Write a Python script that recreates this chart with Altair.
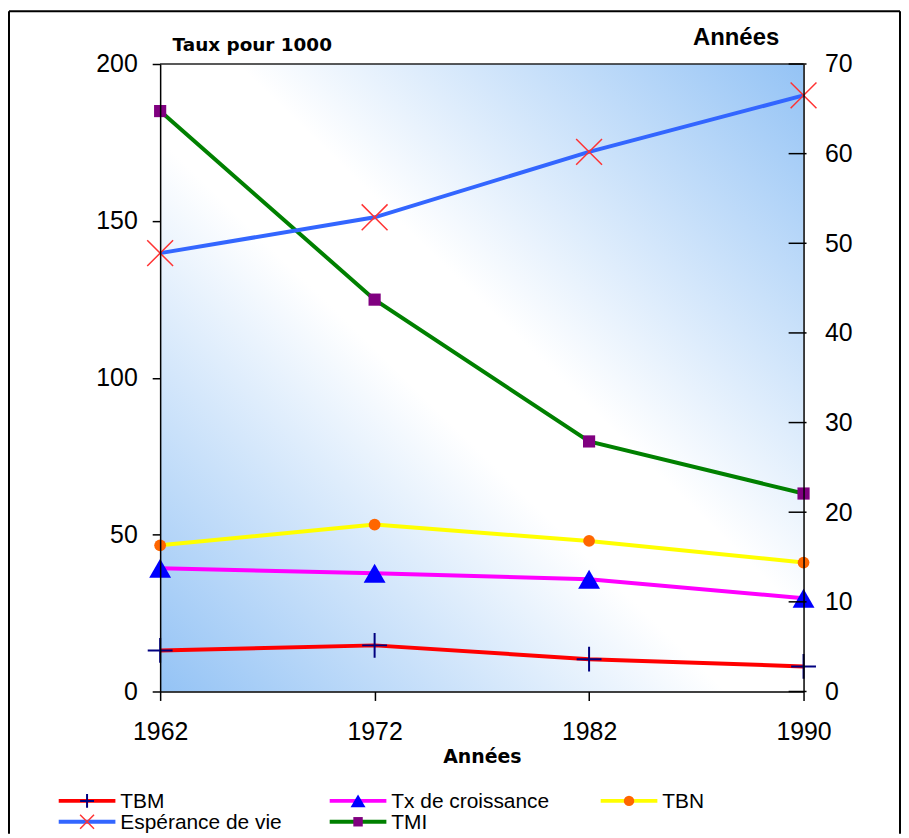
import altair as alt
import pandas as pd

# ---------------- data ----------------
years = ["1962", "1972", "1982", "1990"]
tbm = [13.1, 14.7, 10.3, 8.0]
tx_croissance = [39.3, 37.7, 35.8, 29.7]
tbn = [46.6, 53.2, 48.0, 41.1]
tmi = [185.0, 124.9, 79.7, 63.1]
esperance = [48.9, 52.9, 60.2, 66.5]

left_ticks = [0, 50, 100, 150, 200]
right_ticks = [0, 10, 20, 30, 40, 50, 60, 70]

series_names = ["TBM", "Tx de croissance", "TBN", "Espérance de vie", "TMI"]
line_colors = ["#ff0000", "#ff00ff", "#ffff00", "#3366ff", "#008000"]
legend_col = [0, 1, 2, 0, 1]
legend_row = [0, 0, 0, 1, 1]

# marker styles (plot, legend)
marker_styles = {
    "TBM": dict(shape="M-1,0L1,0M0,-1L0,1", filled=False, stroke="#000080", strokeWidth=2, opacity=1),
    "Tx de croissance": dict(shape="triangle-up", filled=True, fill="#0000ff", opacity=1, strokeWidth=0),
    "TBN": dict(shape="circle", filled=True, fill="#ff6600", opacity=1, strokeWidth=0),
    "Espérance de vie": dict(shape="M-1,-1L1,1M-1,1L1,-1", filled=False, stroke="#ff3333", strokeWidth=1.5, opacity=1),
    "TMI": dict(shape="square", filled=True, fill="#800080", opacity=1, strokeWidth=0),
}
plot_sizes = {"TBM": 625, "Tx de croissance": 484, "TBN": 140, "Espérance de vie": 676, "TMI": 150}
legend_sizes = {"TBM": 196, "Tx de croissance": 225, "TBN": 110, "Espérance de vie": 196, "TMI": 90}

W, H = 647, 631

left_series = {"TBM": tbm, "Tx de croissance": tx_croissance, "TBN": tbn, "TMI": tmi}
left_df = pd.DataFrame(
    [{"year": y, "series": s, "value": v} for s, vals in left_series.items() for y, v in zip(years, vals)]
)
esp_df = pd.DataFrame({"year": years, "value": esperance, "series": "Espérance de vie"})
rt_df = pd.DataFrame({"value": right_ticks})
leg_df = pd.DataFrame({"series": series_names, "col": legend_col, "row": legend_row})
one = pd.DataFrame({"a": [0]})

color_scale = alt.Scale(domain=series_names, range=line_colors)
color_enc = alt.Color("series:N", scale=color_scale, legend=None)

x_axis = alt.Axis(
    title="Années", labelAngle=0, labelFont="Liberation Sans", labelFontSize=25,
    labelColor="black", labelPadding=19, tickSize=9, tickColor="black", tickWidth=1.5,
    domainColor="black", domainWidth=1.5, grid=False, zindex=1,
    titleFont="DejaVu Sans", titleFontSize=19, titleFontWeight="bold", titleColor="black",
    titlePadding=3,
)
x_scale = alt.Scale(type="point", padding=0, domain=years)
x_main = alt.X("year:O", scale=x_scale, axis=x_axis)
x_noaxis = alt.X("year:O", scale=x_scale, axis=None)

left_axis = alt.Axis(
    values=left_ticks, title="Taux pour 1000", titleAngle=0, titleX=12, titleY=-14,
    titleAlign="left", titleBaseline="alphabetic", titleFont="DejaVu Sans",
    titleFontSize=18.5, titleFontWeight="bold", titleColor="black",
    labelFont="Liberation Sans", labelFontSize=25, labelColor="black", labelPadding=15,
    tickSize=8, tickColor="black", tickWidth=1.5, domainColor="black", domainWidth=1.5,
    grid=False, zindex=1,
)
y_left = alt.Y("value:Q", scale=alt.Scale(domain=[0, 200], nice=False), axis=left_axis)

right_axis = alt.Axis(
    orient="right", values=right_ticks, title="Années", titleAngle=0, titleX=-25, titleY=-20,
    titleAlign="right", titleBaseline="alphabetic", titleFont="Liberation Sans",
    titleFontSize=24, titleFontWeight="bold", titleColor="black",
    labelFont="Liberation Sans", labelFontSize=25, labelColor="black", labelPadding=21,
    ticks=False, tickSize=0, domainColor="black", domainWidth=1.5, grid=False, zindex=1,
)
y_right = alt.Y("value:Q", scale=alt.Scale(domain=[0, 70], nice=False), axis=right_axis)

grad = alt.LinearGradient(
    gradient="linear",
    stops=[
        alt.GradientStop(color="#94c3f5", offset=0),
        alt.GradientStop(color="#ffffff", offset=0.44),
        alt.GradientStop(color="#ffffff", offset=0.56),
        alt.GradientStop(color="#94c3f5", offset=1),
    ],
    x1=1, y1=0, x2=0, y2=1,
)

bg = alt.Chart(one).mark_rect(color=grad).encode(
    x=alt.value(0), x2=alt.value(W), y=alt.value(0), y2=alt.value(H)
)
top_frame = alt.Chart(one).mark_rule(color="#222222", strokeWidth=1.5).encode(
    x=alt.value(0), x2=alt.value(W), y=alt.value(0)
)
border_l = alt.Chart(one).mark_rule(color="black", strokeWidth=2).encode(
    x=alt.value(-152), y=alt.value(-53), y2=alt.value(774)
)
border_t = alt.Chart(one).mark_rule(color="black", strokeWidth=2).encode(
    x=alt.value(-152), x2=alt.value(744), y=alt.value(-53)
)
border_r = alt.Chart(one).mark_rule(color="black", strokeWidth=2).encode(
    x=alt.value(744), y=alt.value(-53), y2=alt.value(774)
)

left_lines = alt.Chart(left_df).mark_line(strokeWidth=4).encode(
    x=x_main, y=y_left, color=color_enc, detail="series:N"
)
left_markers = [
    alt.Chart(left_df).transform_filter(alt.datum.series == s)
    .mark_point(size=plot_sizes[s], **marker_styles[s]).encode(x=x_main, y=y_left)
    for s in ["TBN", "Tx de croissance", "TBM", "TMI"]
]
left_child = alt.layer(bg, top_frame, border_l, border_t, border_r, left_lines, *left_markers)

esp_line = alt.Chart(esp_df).mark_line(strokeWidth=4).encode(
    x=x_noaxis, y=y_right, color=color_enc
)
esp_marker = alt.Chart(esp_df).mark_point(
    size=plot_sizes["Espérance de vie"], **marker_styles["Espérance de vie"]
).encode(x=x_noaxis, y=y_right)
right_tick_marks = alt.Chart(rt_df).mark_rule(color="black", strokeWidth=1.5).encode(
    y=y_right, x=alt.value(W - 15), x2=alt.value(W + 3)
)
esp_child = alt.layer(esp_line, right_tick_marks, esp_marker)

x_leg = alt.X("col:Q", scale=alt.Scale(domain=[0, 2], range=[-102, 443], nice=False, zero=False), axis=None)
y_leg = alt.Y("row:Q", scale=alt.Scale(domain=[0, 1], range=[741, 762], nice=False, zero=False), axis=None)
leg_lines = alt.Chart(leg_df).mark_rule(strokeWidth=4, x2Offset=57).encode(
    x=x_leg, x2=alt.X2("col"), y=y_leg, color=color_enc
)
leg_markers = [
    alt.Chart(leg_df).transform_filter(alt.datum.series == s)
    .mark_point(xOffset=28.5, size=legend_sizes[s], **marker_styles[s]).encode(x=x_leg, y=y_leg)
    for s in series_names
]
leg_text = alt.Chart(leg_df).mark_text(
    align="left", baseline="middle", dx=62, dy=1, font="Liberation Sans", fontSize=21, color="black"
).encode(x=x_leg, y=y_leg, text="series:N")
legend_child = alt.layer(leg_lines, *leg_markers, leg_text)

chart = (
    alt.layer(left_child, esp_child, legend_child)
    .resolve_scale(x="independent", y="independent")
    .properties(width=W, height=H, padding=0, background="white")
    .configure_view(stroke=None)
)

chart.save("out.html", embed_options={"renderer": "svg", "actions": False})
